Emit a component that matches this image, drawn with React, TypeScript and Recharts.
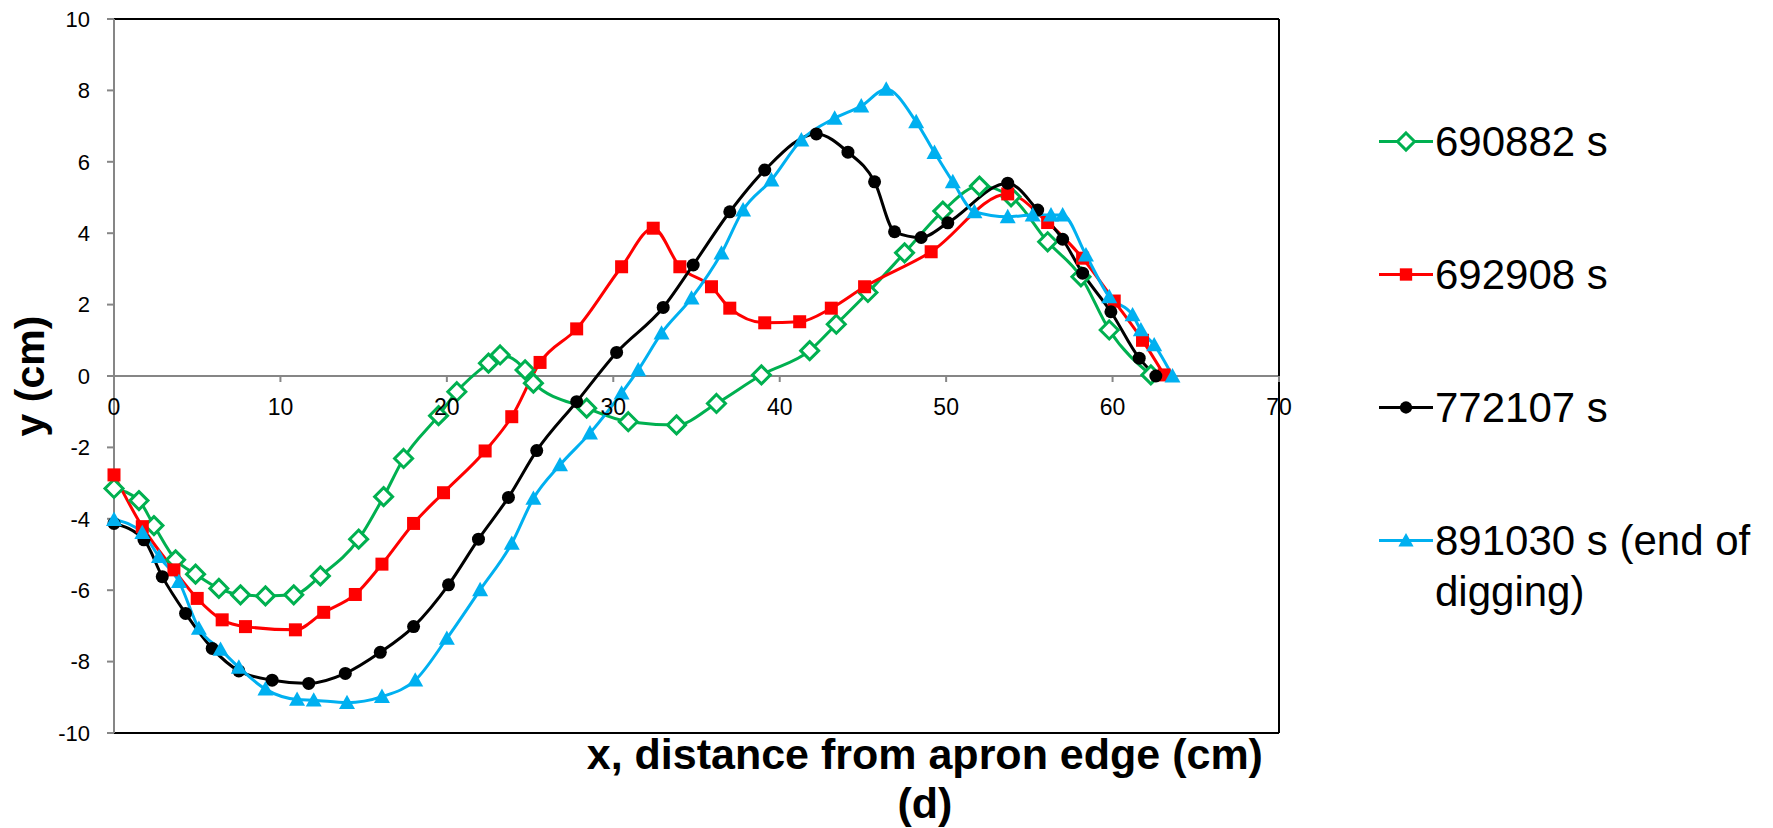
import { LineChart, Line, XAxis, YAxis, ReferenceLine, Legend, Label } from "recharts";

const FONT = '"Liberation Sans", Arial, sans-serif';
const AXIS_GRAY = "#868686";

// x positions (cm) and elevations (cm)
const GREEN_X = [0, 1.5, 2.4, 3.7, 4.9, 6.3, 7.6, 9.1, 10.8, 12.4, 14.7, 16.2, 17.4, 19.5, 20.6, 22.5, 23.2, 24.7, 25.2, 28.4, 30.9, 33.8, 36.2, 38.9, 41.8, 43.4, 45.3, 47.5, 49.8, 52.0, 53.9, 56.1, 58.1, 59.8, 62.3];
const GREEN_Y = [-3.15, -3.49, -4.19, -5.15, -5.55, -5.95, -6.13, -6.16, -6.13, -5.6, -4.57, -3.38, -2.31, -1.11, -0.44, 0.36, 0.59, 0.17, -0.2, -0.9, -1.28, -1.37, -0.77, 0.03, 0.71, 1.45, 2.34, 3.45, 4.62, 5.32, 5.02, 3.76, 2.78, 1.29, 0.03];

const RED_X = [0, 1.7, 3.6, 5.0, 6.5, 7.9, 10.9, 12.6, 14.5, 16.1, 18.0, 19.8, 22.3, 23.9, 25.6, 27.8, 30.5, 32.4, 34.0, 35.9, 37.0, 39.1, 41.2, 43.1, 45.1, 49.1, 53.7, 56.1, 58.2, 60.1, 61.8, 63.1];
const RED_Y = [-2.77, -4.22, -5.43, -6.23, -6.83, -7.02, -7.11, -6.62, -6.12, -5.27, -4.13, -3.27, -2.1, -1.14, 0.38, 1.32, 3.06, 4.14, 3.06, 2.5, 1.9, 1.49, 1.52, 1.9, 2.5, 3.48, 5.1, 4.3, 3.3, 2.1, 1.0, 0.03];

const BLACK_X = [0, 1.8, 2.9, 4.3, 5.9, 7.5, 9.5, 11.7, 13.9, 16.0, 18.0, 20.1, 21.9, 23.7, 25.4, 27.8, 30.2, 33.0, 34.8, 37.0, 39.1, 42.2, 44.1, 45.7, 46.9, 48.5, 50.1, 53.7, 55.5, 57.0, 58.2, 59.9, 61.6, 62.6];
const BLACK_Y = [-4.13, -4.59, -5.62, -6.65, -7.63, -8.26, -8.52, -8.61, -8.33, -7.74, -7.02, -5.85, -4.57, -3.4, -2.09, -0.72, 0.66, 1.92, 3.11, 4.6, 5.77, 6.78, 6.27, 5.44, 4.04, 3.88, 4.29, 5.4, 4.65, 3.83, 2.88, 1.8, 0.5, 0];

const BLUE_X = [0, 1.7, 2.7, 3.9, 5.1, 6.4, 7.5, 9.1, 11.0, 12.0, 14.0, 16.1, 18.1, 20.0, 22.0, 23.9, 25.2, 26.8, 28.6, 30.5, 31.5, 32.9, 34.7, 36.5, 37.8, 39.5, 41.3, 43.3, 44.9, 46.4, 48.2, 49.3, 50.4, 51.7, 53.7, 55.2, 56.3, 57.0, 58.4, 59.8, 61.2, 61.7, 62.5, 63.6];
const BLUE_Y = [-4.02, -4.39, -5.06, -5.76, -7.07, -7.66, -8.16, -8.77, -9.06, -9.08, -9.15, -8.98, -8.52, -7.35, -5.99, -4.69, -3.43, -2.49, -1.6, -0.48, 0.17, 1.2, 2.18, 3.44, 4.65, 5.49, 6.61, 7.22, 7.56, 8.03, 7.12, 6.26, 5.44, 4.6, 4.46, 4.51, 4.51, 4.51, 3.39, 2.22, 1.71, 1.29, 0.87, 0];

const X_TICKS = [0, 10, 20, 30, 40, 50, 60, 70];
const Y_TICKS = [-10, -8, -6, -4, -2, 0, 2, 4, 6, 8, 10];

const toPoints = (xs: number[], ys: number[]) => xs.map((x, i) => ({ x, y: ys[i] }));

type Shape = "diamond" | "square" | "circle" | "triangle";

const SERIES: { name: string; color: string; shape: Shape; data: { x: number; y: number }[] }[] = [
  { name: "690882 s", color: "#00B050", shape: "diamond", data: toPoints(GREEN_X, GREEN_Y) },
  { name: "692908 s", color: "#FF0000", shape: "square", data: toPoints(RED_X, RED_Y) },
  { name: "772107 s", color: "#000000", shape: "circle", data: toPoints(BLACK_X, BLACK_Y) },
  { name: "891030 s (end of digging)", color: "#00B0F0", shape: "triangle", data: toPoints(BLUE_X, BLUE_Y) },
];

const W = 1773;
const H = 828;
const MARGIN = { top: 19, right: 494, bottom: 0, left: 34 };
const Y_AXIS_W = 80;
const X_AXIS_H = 95;
const PLOT_H = H - MARGIN.top - MARGIN.bottom - X_AXIS_H;
const ZERO_Y = MARGIN.top + PLOT_H / 2;

function marker(shape: Shape, color: string, cx: number, cy: number, s: number, key?: string) {
  if (shape === "diamond") {
    const r = 9 * s;
    return (
      <path key={key} d={`M${cx},${cy - r}L${cx + r},${cy}L${cx},${cy + r}L${cx - r},${cy}Z`} fill="#fff" stroke={color} strokeWidth={3} />
    );
  }
  if (shape === "square") {
    const h = 6.5 * s;
    return <rect key={key} x={cx - h} y={cy - h} width={2 * h} height={2 * h} fill={color} />;
  }
  if (shape === "circle") {
    return <circle key={key} cx={cx} cy={cy} r={6.5 * s} fill={color} />;
  }
  const h = 8 * s;
  return <path key={key} d={`M${cx},${cy - h}L${cx + h},${cy + 0.8 * h}L${cx - h},${cy + 0.8 * h}Z`} fill={color} />;
}

function XTick({ x, payload }: any) {
  return (
    <g>
      <line x1={x} x2={x} y1={ZERO_Y} y2={ZERO_Y + 6} stroke={AXIS_GRAY} strokeWidth={2} />
      <text x={x} y={ZERO_Y + 31} textAnchor="middle" dominantBaseline="central" fontSize={23} fill="#000" fontFamily={FONT}>
        {payload.value}
      </text>
    </g>
  );
}

function LegendContent({ payload }: any) {
  const items = payload || [];
  return (
    <div style={{ fontFamily: FONT }}>
      {items.map((p: any, i: number) => {
        const s = SERIES.find((d) => d.name === p.value);
        return (
          <div key={p.value} style={{ display: "flex", alignItems: "flex-start", height: i < items.length - 1 ? 133 : undefined }}>
            <svg width={56} height={51}>
              <line x1={0} x2={54} y1={25.5} y2={25.5} stroke={p.color} strokeWidth={3} />
              {s && marker(s.shape, s.color, 27, 25.5, 0.95)}
            </svg>
            <div style={{ fontSize: 42, lineHeight: "51px", width: 330, color: "#000" }}>{p.value}</div>
          </div>
        );
      })}
    </div>
  );
}

export default function App() {
  return (
    <div style={{ width: W, height: H }}>
      <style>{`body{margin:0}`}</style>
      <LineChart width={W} height={H} margin={MARGIN}>
        <XAxis
          type="number"
          dataKey="x"
          domain={[0, 70]}
          ticks={X_TICKS}
          axisLine={false}
          tickLine={false}
          height={X_AXIS_H}
          tick={<XTick />}
          interval={0}
        >
          <Label
            content={({ viewBox }: any) => {
              const cx = viewBox.x + viewBox.width * 0.696;
              return (
                <g fontFamily={FONT} fontWeight="bold" fill="#000" fontSize={43}>
                  <text x={cx} y={viewBox.y + 21} textAnchor="middle" dominantBaseline="central">
                    x, distance from apron edge (cm)
                  </text>
                  <text x={cx} y={viewBox.y + 70} textAnchor="middle" dominantBaseline="central">
                    (d)
                  </text>
                </g>
              );
            }}
          />
        </XAxis>
        <YAxis
          type="number"
          domain={[-10, 10]}
          ticks={Y_TICKS}
          width={Y_AXIS_W}
          interval={0}
          axisLine={{ stroke: AXIS_GRAY, strokeWidth: 2 }}
          tickLine={{ stroke: AXIS_GRAY, strokeWidth: 2 }}
          tickSize={7}
          tickMargin={17}
          tick={{ fontSize: 22, fill: "#000", fontFamily: FONT }}
        >
          <Label
            content={({ viewBox }: any) => {
              const cx = viewBox.x - 4;
              const cy = viewBox.y + viewBox.height / 2;
              return (
                <text
                  x={cx}
                  y={cy}
                  transform={`rotate(-90 ${cx} ${cy})`}
                  textAnchor="middle"
                  dominantBaseline="central"
                  fontSize={41}
                  fontWeight="bold"
                  fontFamily={FONT}
                  fill="#000"
                >
                  y (cm)
                </text>
              );
            }}
          />
        </YAxis>
        <ReferenceLine y={0} stroke={AXIS_GRAY} strokeWidth={2} />
        <ReferenceLine y={10} stroke="#000" strokeWidth={2} />
        <ReferenceLine y={-10} stroke="#000" strokeWidth={2} />
        <ReferenceLine x={70} stroke="#000" strokeWidth={2} />
        <Legend
          layout="vertical"
          align="center"
          verticalAlign="middle"
          wrapperStyle={{ left: 1379, top: 116, width: 390 }}
          content={<LegendContent />}
        />
        {SERIES.map((s) => (
          <Line
            key={s.name}
            name={s.name}
            data={s.data}
            dataKey="y"
            type="monotone"
            stroke={s.color}
            strokeWidth={3}
            isAnimationActive={false}
            activeDot={false}
            dot={(props: any) => marker(s.shape, s.color, props.cx, props.cy, 1, `${s.name}-${props.index}`)}
          />
        ))}
      </LineChart>
    </div>
  );
}
